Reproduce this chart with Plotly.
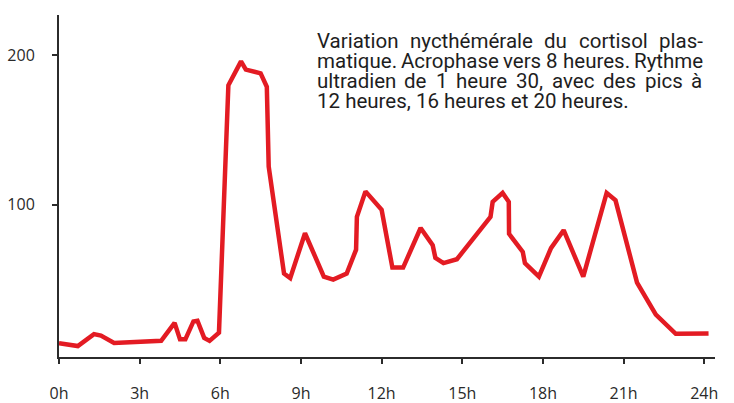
import plotly.graph_objects as go

# Data (hours, cortisol level)
hours = [0.0, 0.7, 1.3, 1.56, 2.05, 3.8, 4.3, 4.5, 4.7, 5.0, 5.15, 5.4, 5.6, 5.95,
         6.3, 6.77, 6.95, 7.5, 7.73, 7.8, 8.37, 8.6, 9.15, 9.85, 10.2, 10.7, 11.05,
         11.08, 11.4, 11.8, 12.0, 12.4, 12.8, 13.45, 13.9, 14.0, 14.3, 14.8, 16.05,
         16.13, 16.5, 16.73, 16.74, 17.25, 17.33, 17.85, 18.3, 18.77, 19.5, 20.37,
         20.7, 21.5, 22.2, 22.94, 24.16]
cortisol = [7.5, 5.5, 13.5, 12.5, 7.6, 9, 21, 10, 10, 22, 22.5, 11, 9, 14.5,
            180, 196, 190.5, 188, 179, 125.6, 54, 51, 81, 52, 50, 54, 70,
            92, 109, 101, 96.7, 58, 58, 84.5, 73, 64.5, 61, 63.6, 92,
            102, 108, 102, 80.6, 68.5, 61, 52, 71, 83, 52, 108,
            103, 48, 26.6, 13.7, 14]

x_tickvals = [0, 3, 6, 9, 12, 15, 18, 21, 24]
x_ticktext = ["0h", "3h", "6h", "9h", "12h", "15h", "18h", "21h", "24h"]
y_tickvals = [100, 200]
y_ticktext = ["100", "200"]

caption_lines = [
    "Variation nycthémérale du cortisol plas-",
    "matique. Acrophase vers 8 heures. Rythme",
    "ultradien de 1 heure 30, avec des pics à",
    "12 heures, 16 heures et 20 heures.",
]

W, H = 734, 403
ML, MR, MT, MB = 59, 19, 15, 46
PW, PH = W - ML - MR, H - MT - MB

fig = go.Figure()
fig.add_trace(go.Scatter(x=hours, y=cortisol, mode="lines",
                         line=dict(color="#e31b23", width=4.5),
                         hoverinfo="skip"))

axis_color = "#2b2b2b"
tick_font = dict(family="Open Sans", size=16, color="#2a2a2a")

fig.update_xaxes(range=[0, 24.4], tickvals=x_tickvals, ticktext=x_ticktext,
                 showline=True, linecolor=axis_color, linewidth=2,
                 ticks="outside", ticklen=5, tickwidth=2, tickcolor=axis_color,
                 showgrid=False, zeroline=False, tickfont=tick_font,
                 ticklabelstandoff=16, automargin=False)
fig.update_yaxes(range=[-1.8, 227], tickvals=y_tickvals, ticktext=y_ticktext,
                 showline=True, linecolor=axis_color, linewidth=2,
                 ticks="outside", ticklen=5, tickwidth=2, tickcolor=axis_color,
                 showgrid=False, zeroline=False, tickfont=tick_font,
                 ticklabelstandoff=14, automargin=False)

# Justified caption text (approximate Roboto advance widths, in em)
CW = {' ': 0.248, 'a': 0.531, 'b': 0.548, 'c': 0.511, 'd': 0.551, 'e': 0.517,
      'f': 0.339, 'g': 0.548, 'h': 0.539, 'i': 0.238, 'l': 0.238, 'm': 0.858,
      'n': 0.540, 'o': 0.557, 'p': 0.548, 'q': 0.552, 'r': 0.331, 's': 0.503,
      't': 0.319, 'u': 0.539, 'v': 0.473, 'y': 0.463, 'é': 0.517, 'à': 0.531,
      'V': 0.636, 'A': 0.652, 'R': 0.617, ',': 0.192, '.': 0.257, '-': 0.270}
FS = 20.5
TX0, TX1 = 316, 701
line_centers = [41, 61, 81, 101]


def tw(s):
    return sum(CW.get(c, 0.562) for c in s) * FS


def px2paper_x(px):
    return (px - ML) / PW


def px2paper_y(py):
    return (H - MB - py) / PH


cap_font = dict(family="Roboto", size=FS, color="#1e1e1e")
for i, line in enumerate(caption_lines):
    yc = px2paper_y(line_centers[i])
    if i < len(caption_lines) - 1:
        words = line.split(" ")
        total = sum(tw(w) for w in words)
        gap = (TX1 - TX0 - total) / (len(words) - 1)
        pos = TX0
        for w in words:
            fig.add_annotation(x=px2paper_x(pos), y=yc, xref="paper", yref="paper",
                               text=w, showarrow=False, xanchor="left",
                               yanchor="middle", font=cap_font, borderpad=0)
            pos += tw(w) + gap
    else:
        fig.add_annotation(x=px2paper_x(TX0), y=yc, xref="paper", yref="paper",
                           text=line, showarrow=False, xanchor="left",
                           yanchor="middle", font=cap_font, borderpad=0)

fig.update_layout(width=W, height=H, margin=dict(l=ML, r=MR, t=MT, b=MB),
                  plot_bgcolor="white", paper_bgcolor="white", showlegend=False)

fig.write_html("out.html", config={"displayModeBar": False},
               post_script="document.body.style.margin='0';document.body.style.overflow='hidden';")
